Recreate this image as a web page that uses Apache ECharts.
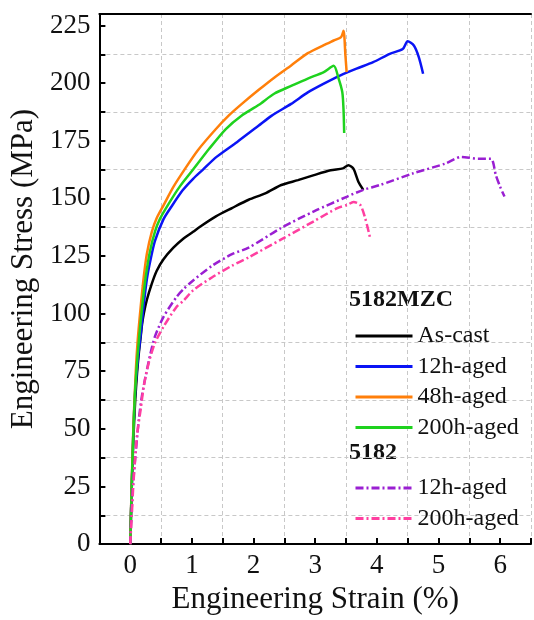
<!DOCTYPE html>
<html>
<head>
<meta charset="utf-8">
<script src="https://cdn.jsdelivr.net/npm/echarts@6/dist/echarts.min.js"></script>
<style>
html,body{margin:0;padding:0;background:#fff;}
#chart{width:534px;height:620px;}
</style>
</head>
<body>
<div id="chart"></div>
<script>
// ---- data (strain %, stress MPa) ----
const mzcAsCast = [[0,0],[0.02,20],[0.05,45],[0.08,62],[0.11,74],[0.14,83],[0.17,90],[0.19,95],[0.22,100],[0.27,106],[0.35,113],[0.43,118.6],[0.54,123.6],[0.7,128.6],[0.86,132.5],[1.02,135.5],[1.12,137.5],[1.39,142.2],[1.65,145.8],[1.92,149.4],[2.19,152.2],[2.45,155.8],[2.72,157.9],[2.98,160.1],[3.25,162.2],[3.45,163],[3.54,164.4],[3.62,162.9],[3.7,157.2],[3.78,153.7]];
const mzc12h = [[0,0],[0.02,21],[0.05,48],[0.08,66],[0.12,79],[0.17,91],[0.22,104],[0.27,115],[0.33,123.5],[0.4,131.5],[0.54,141],[0.67,146.5],[0.85,153.5],[1.02,158.5],[1.18,162.5],[1.4,168],[1.73,174.4],[2.08,181.5],[2.29,185.8],[2.61,191],[2.88,196],[3.14,199.8],[3.41,203.4],[3.67,206.3],[3.94,209.1],[4.21,212.7],[4.42,214.8],[4.5,218.2],[4.6,216.3],[4.68,211.3],[4.75,204.1]];
const mzc48h = [[0,0],[0.02,22],[0.05,50],[0.09,75],[0.12,88],[0.17,103],[0.22,116],[0.27,126],[0.35,135.5],[0.43,141.5],[0.54,147],[0.7,155],[0.88,162.5],[1.1,171],[1.39,180.1],[1.6,186],[1.81,191],[2.08,197],[2.34,202.5],[2.61,207.7],[2.88,213],[3.14,216.5],[3.3,218.5],[3.42,220],[3.46,222.7],[3.49,212],[3.51,204.8]];
const mzc200h = [[0,0],[0.02,21],[0.05,48],[0.08,67],[0.12,82],[0.16,94],[0.21,107],[0.26,117.5],[0.32,127],[0.4,135.5],[0.48,141],[0.62,147.5],[0.8,155],[1.02,162.5],[1.28,171.5],[1.55,180.1],[1.81,186],[2.08,190.5],[2.34,195.5],[2.61,198.8],[2.88,202],[3.14,204.8],[3.3,207.5],[3.38,202],[3.44,196],[3.46,188],[3.47,178.4]];
const al12h = [[0,0],[0.03,18.6],[0.06,31],[0.09,40],[0.14,54.3],[0.19,64.3],[0.25,72.9],[0.33,82.9],[0.4,90],[0.54,98.6],[0.75,107.2],[0.86,110.5],[1.02,114.4],[1.33,120.8],[1.65,125.8],[1.92,128.6],[2.45,137.2],[2.98,144.4],[3.52,150.8],[3.78,153.7],[4.05,155.8],[4.58,160.8],[5.11,165.1],[5.37,168],[5.64,167.2],[5.85,167.2],[5.93,160.1],[6.0,155],[6.07,150.8]];
const al200h = [[0,0],[0.03,15],[0.05,25.7],[0.08,37],[0.11,47.2],[0.17,58.6],[0.22,68.6],[0.3,78.6],[0.4,87.2],[0.54,94.3],[0.75,102.9],[0.86,105.5],[1.02,110.1],[1.33,115.8],[1.65,120.8],[1.92,124.4],[2.45,132.2],[2.98,140.1],[3.36,145.8],[3.52,147.2],[3.62,148.4],[3.73,147.2],[3.81,141.5],[3.89,132.9]];

const groupA = '5182MZC';
const groupB = '5182';
const namesA = ['As-cast','12h-aged','48h-aged','200h-aged'];
const namesB = ['12h-aged','200h-aged'];
const yLabelValues = [0,25,50,75,100,125,150,175,200,225];
const xLabelValues = [0,1,2,3,4,5,6];

const FONT = 'Liberation Serif';
const colors = ['#000000','#0a14f5','#ff7f0a','#1ed21e','#9a1fd2','#ff3fa0'];
const allData = [mzcAsCast, mzc12h, mzc48h, mzc200h, al12h, al200h];
const seriesNames = namesA.map(n => 'A|' + n).concat(namesB.map(n => 'B|' + n));

const series = allData.map((d, i) => ({
  name: seriesNames[i],
  type: 'line',
  data: d,
  symbol: 'none',
  smooth: 0.25,
  lineStyle: {
    color: colors[i],
    width: 2.5,
    type: i >= 4 ? [8, 3, 2, 3] : 'solid'
  },
  itemStyle: { color: colors[i] },
  z: 2 + i
}));

const legendBase = {
  orient: 'vertical',
  left: 349,
  itemWidth: 57,
  itemHeight: 14,
  itemGap: 6.5,
  selectedMode: false,
  itemStyle: { opacity: 0 },
  lineStyle: { width: 3 },
  textStyle: { fontFamily: FONT, fontSize: 24, color: '#111', lineHeight: 24 },
  formatter: n => n.split('|')[1]
};

const chart = echarts.init(document.getElementById('chart'), null, { renderer: 'canvas' });
chart.setOption({
  animation: false,
  backgroundColor: '#fff',
  grid: { left: 94, right: 0, top: 14, bottom: 70, containLabel: false },
  xAxis: [{
    type: 'value', min: -0.5, max: 6.5, interval: 0.5,
    name: 'Engineering Strain (%)', nameLocation: 'middle', nameGap: 39,
    nameTextStyle: { fontFamily: FONT, fontSize: 31, color: '#111' },
    axisLine: { show: true, onZero: false, lineStyle: { color: '#000', width: 2 } },
    axisTick: { show: true, inside: true, length: 6, lineStyle: { color: '#000', width: 2 } },
    axisLabel: {
      margin: 8, fontFamily: FONT, fontSize: 27, color: '#111',
      formatter: v => xLabelValues.indexOf(v) >= 0 ? String(v) : ''
    },
    splitLine: { show: true, lineStyle: { color: ['#c8c8c8', 'rgba(0,0,0,0)'], type: [4, 3], width: 1 } }
  }, {
    type: 'value', position: 'top', min: -0.5, max: 6.5,
    axisLine: { show: true, onZero: false, lineStyle: { color: '#000', width: 2 } },
    axisTick: { show: false }, axisLabel: { show: false }, splitLine: { show: false }
  }],
  yAxis: {
    type: 'value', min: 0, max: 230, interval: 12.5,
    name: 'Engineering Stress (MPa)', nameLocation: 'middle', nameGap: 56,
    nameTextStyle: { fontFamily: FONT, fontSize: 31, color: '#111', padding: [0, 0, 0, 20] },
    axisLine: { show: true, onZero: false, lineStyle: { color: '#000', width: 2 } },
    axisTick: { show: true, inside: true, length: 6, lineStyle: { color: '#000', width: 2 } },
    axisLabel: {
      margin: 9, fontFamily: FONT, fontSize: 27, color: '#111',
      formatter: v => yLabelValues.indexOf(v) >= 0 ? String(v) : ''
    },
    splitLine: { show: true, lineStyle: { color: ['rgba(0,0,0,0)', '#c8c8c8'], type: [4, 3], width: 1 } }
  },
  legend: [
    Object.assign({}, legendBase, { top: 319, data: seriesNames.slice(0, 4) }),
    Object.assign({}, legendBase, { top: 471, data: seriesNames.slice(4) })
  ],
  graphic: [
    { type: 'text', left: 349, top: 288, style: { text: groupA, font: 'bold 24px "Liberation Serif"', fill: '#111' } },
    { type: 'text', left: 349, top: 441, style: { text: groupB, font: 'bold 24px "Liberation Serif"', fill: '#111' } }
  ],
  series: series
});
</script>
</body>
</html>
